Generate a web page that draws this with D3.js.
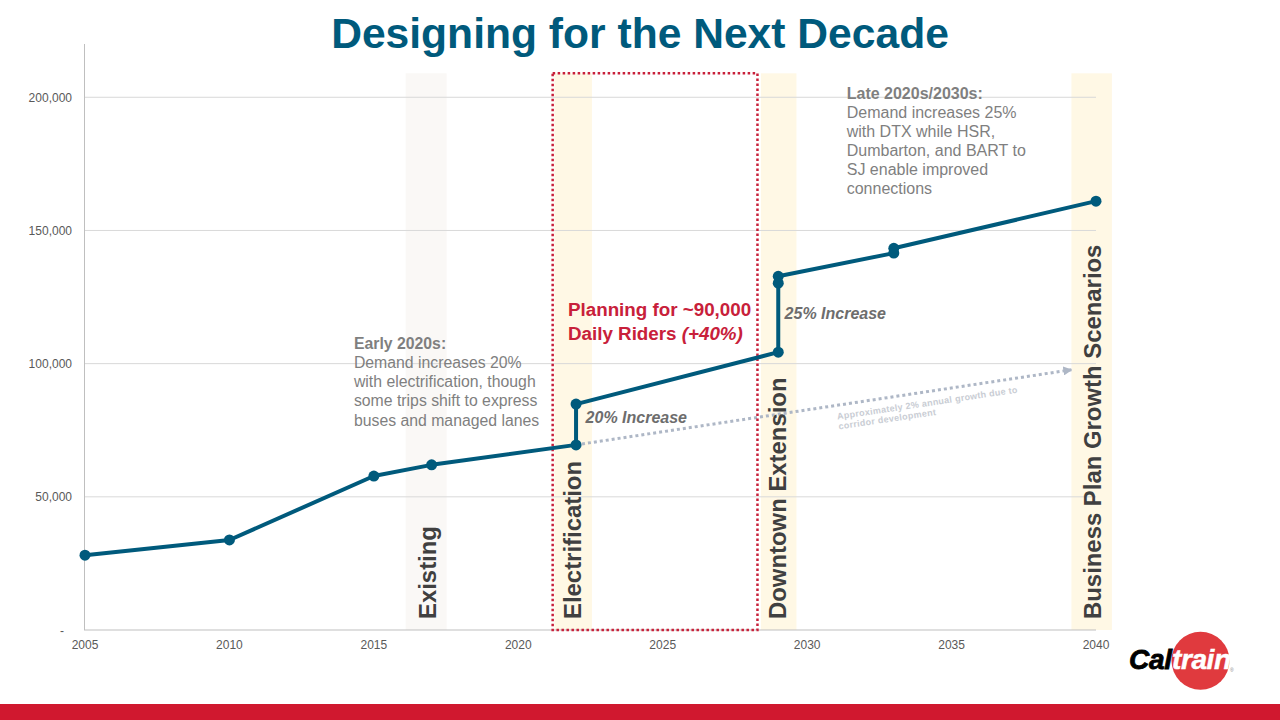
<!DOCTYPE html>
<meta charset="utf-8">
<style>
body { margin: 0; background: #fff; }
text { font-family: "Liberation Sans", Arial, sans-serif; }
.grid line { stroke: #d9d9d9; stroke-width: 1px; }
.tick-label { font-size: 12px; fill: #595959; }
.ridership { fill: none; stroke: #005a7c; stroke-width: 4px; stroke-linejoin: round; }
.note { fill: #7f7f7f; }
.note-head { font-weight: bold; }
.step { font-size: 16px; font-weight: bold; font-style: italic; fill: #6d6d6d; }
.band-label { font-size: 23.9px; font-weight: bold; fill: #404040; }
</style>
<body>
<script src="https://d3js.org/d3.v7.min.js"></script>
<script>

// ridership line
var years = [2005, 2010, 2015, 2017, 2022, 2022, 2029, 2029, 2029, 2033, 2033, 2040];
var riders = [28100, 33800, 57800, 62000, 69500, 84800, 104300, 130200, 132800, 141500, 143300, 161000];

// background growth (dotted)
var growthYears = [2022, 2039.15];
var growthRiders = [69500, 97700];

var xTicks = [2005, 2010, 2015, 2020, 2025, 2030, 2035, 2040];
var yTicks = [0, 50000, 100000, 150000, 200000];

// vertical bands
var bandNames = ["Existing", "Electrification", "Downtown Extension", "Business Plan Growth Scenarios"];
var bandStart = [2016.1, 2021.25, 2028.4, 2039.15];
var bandEnd = [2017.52, 2022.55, 2029.63, 2040.55];
var bandColors = ["#faf8f6", "#fff8e5", "#fff8e5", "#fff8e5"];
var bandCenter = [2016.86, 2021.9, 2029, 2039.9];

var width = 1280, height = 720;

var x = d3.scaleLinear().domain([2005, 2040]).range([85, 1096]);
var y = d3.scaleLinear().domain([0, 220000]).range([630, 44]);

var svg = d3.select("body").append("svg")
    .attr("width", width)
    .attr("height", height)
    .style("display", "block");

// bands
bandNames.forEach(function(name, i) {
  svg.append("rect")
      .attr("x", x(bandStart[i]))
      .attr("y", y(209000))
      .attr("width", x(bandEnd[i]) - x(bandStart[i]))
      .attr("height", y(0) - y(209000))
      .attr("fill", bandColors[i]);
});

// gridlines
var grid = svg.append("g").attr("class", "grid");
yTicks.slice(1).forEach(function(t) {
  grid.append("line")
      .attr("x1", x(2005) - 1).attr("x2", x(2040))
      .attr("y1", y(t)).attr("y2", y(t));
});

// axes
svg.append("line")
    .attr("x1", 84.5).attr("x2", 84.5)
    .attr("y1", y(220000)).attr("y2", y(0))
    .attr("stroke", "#bfbfbf");
svg.append("line")
    .attr("x1", 84).attr("x2", x(2040))
    .attr("y1", y(0)).attr("y2", y(0))
    .attr("stroke", "#bfbfbf");

svg.selectAll(".y-label")
    .data(yTicks)
  .enter().append("text")
    .attr("class", "tick-label y-label")
    .attr("x", function(d) { return d === 0 ? 64 : 72; })
    .attr("y", function(d) { return y(d) + 4.5; })
    .attr("text-anchor", "end")
    .text(function(d) { return d === 0 ? "-" : d3.format(",")(d); });

svg.selectAll(".x-label")
    .data(xTicks)
  .enter().append("text")
    .attr("class", "tick-label x-label")
    .attr("x", function(d) { return x(d); })
    .attr("y", 649)
    .attr("text-anchor", "middle")
    .text(function(d) { return d; });

// dotted growth line
var arrowEnd = growthYears.length - 1;
svg.append("defs").append("marker")
    .attr("id", "arrow")
    .attr("viewBox", "0 0 10 10")
    .attr("refX", 9).attr("refY", 5)
    .attr("markerUnits", "userSpaceOnUse")
    .attr("markerWidth", 9).attr("markerHeight", 9)
    .attr("orient", "auto")
  .append("path")
    .attr("d", "M0,0L10,5L0,10Z")
    .attr("fill", "#aeb7c6");

svg.append("line")
    .attr("x1", x(growthYears[0])).attr("y1", y(growthRiders[0]))
    .attr("x2", x(growthYears[arrowEnd])).attr("y2", y(growthRiders[arrowEnd]))
    .attr("stroke", "#aeb7c6")
    .attr("stroke-width", 3)
    .attr("stroke-dasharray", "3 3")
    .attr("marker-end", "url(#arrow)");

svg.append("text")
    .attr("transform", "translate(" + x(2031.05) + "," + y(79000) + ") rotate(-8.5)")
    .attr("font-size", 9).attr("font-weight", "bold").attr("fill", "#c9cdd4")
    .attr("letter-spacing", 0.3)
    .selectAll("tspan")
    .data(["Approximately 2% annual growth due to", "corridor development"])
  .enter().append("tspan")
    .attr("x", 0)
    .attr("dy", function(d, i) { return i * 10; })
    .text(function(d) { return d; });

// red dotted planning box
svg.append("rect")
    .attr("x", x(2021.19))
    .attr("y", y(209000))
    .attr("width", x(2028.28) - x(2021.19))
    .attr("height", y(0) - y(209000))
    .attr("fill", "none")
    .attr("stroke", "#c8203a")
    .attr("stroke-width", 2.5)
    .attr("stroke-dasharray", "2.5 2.5");

// ridership line and points
var line = d3.line()
    .x(function(d) { return x(d[0]); })
    .y(function(d) { return y(d[1]); });

var points = d3.zip(years, riders);

svg.append("path")
    .datum(points)
    .attr("class", "ridership")
    .attr("d", line);

svg.selectAll(".dot")
    .data(points)
  .enter().append("circle")
    .attr("class", "dot")
    .attr("cx", function(d) { return x(d[0]); })
    .attr("cy", function(d) { return y(d[1]); })
    .attr("r", 5.5)
    .attr("fill", "#005a7c");

// vertical band labels
bandNames.forEach(function(name, i) {
  svg.append("text")
      .attr("class", "band-label")
      .attr("transform", "translate(" + (x(bandCenter[i]) + 8) + "," + (y(0) - 11) + ") rotate(-90)")
      .text(name);
});

// notes
function note(year, value, head, lines, lead, size) {
  var t = svg.append("text")
      .attr("class", "note")
      .attr("font-size", size)
      .attr("transform", "translate(" + x(year) + "," + y(value) + ")");
  t.append("tspan").attr("class", "note-head").attr("x", 0).text(head);
  lines.forEach(function(l) {
    t.append("tspan").attr("x", 0).attr("dy", lead).text(l);
  });
}

note(2014.31, 105600, "Early 2020s:",
  ["Demand increases 20%", "with electrification, though", "some trips shift to express", "buses and managed lanes"], 19.2, 15.8);

note(2031.37, 199500, "Late 2020s/2030s:",
  ["Demand increases 25%", "with DTX while HSR,", "Dumbarton, and BART to", "SJ enable improved", "connections"], 19, 16);

svg.append("text").attr("class", "step")
    .attr("x", x(2022.33)).attr("y", y(77800)).text("20% Increase");
svg.append("text").attr("class", "step")
    .attr("x", x(2029.22)).attr("y", y(116800)).text("25% Increase");

var plan = svg.append("text")
    .attr("font-size", 18.8).attr("font-weight", "bold").attr("fill", "#c8203a");
plan.append("tspan").attr("x", x(2021.72)).attr("y", y(118000)).text("Planning for ~90,000");
plan.append("tspan").attr("x", x(2021.72)).attr("dy", 24).text("Daily Riders ");
plan.append("tspan").attr("font-style", "italic").text("(+40%)");

// title
svg.append("text")
    .attr("x", 640).attr("y", 48)
    .attr("text-anchor", "middle")
    .attr("font-size", 42.6).attr("font-weight", "bold").attr("fill", "#005a7c")
    .text("Designing for the Next Decade");

// bottom bar
svg.append("rect")
    .attr("x", 0).attr("y", 704)
    .attr("width", width).attr("height", 16)
    .attr("fill", "#d0182f");

// logo
var logo = svg.append("g").attr("transform", "translate(1129,669)");
logo.append("circle").attr("cx", 71.5).attr("cy", -8.3).attr("r", 29).attr("fill", "#e03a3e");
logo.append("text")
    .attr("font-size", 28).attr("font-weight", "bold").attr("font-style", "italic")
    .attr("fill", "#000").attr("stroke", "#000").attr("stroke-width", 0.8)
    .attr("textLength", 43)
    .text("Cal");
logo.append("text")
    .attr("x", 43)
    .attr("font-size", 28).attr("font-weight", "bold").attr("font-style", "italic")
    .attr("fill", "#fff").attr("stroke", "#fff").attr("stroke-width", 0.5)
    .attr("textLength", 59)
    .text("train");
logo.append("text")
    .attr("x", 101).attr("y", 3)
    .attr("font-size", 5).attr("fill", "#888")
    .text("®");

</script>
</body>
